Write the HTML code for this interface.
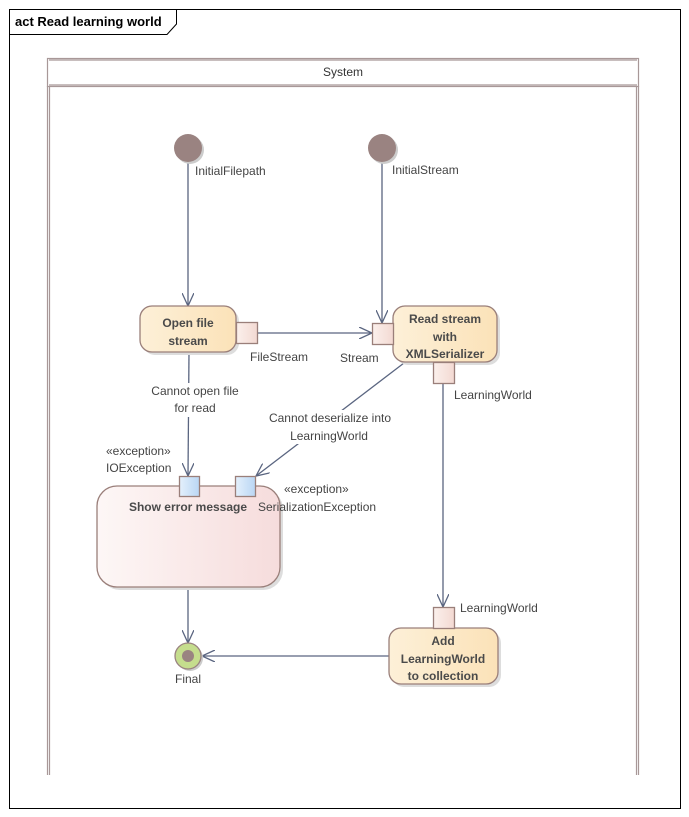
<!DOCTYPE html>
<html><head><meta charset="utf-8"><style>
body{margin:0;background:#fff;}
svg{display:block;font-family:"Liberation Sans",sans-serif;}
</style></head><body>
<svg width="689" height="817" viewBox="0 0 689 817" xmlns="http://www.w3.org/2000/svg">
<defs>
<linearGradient id="act" x1="0" x2="1" y1="0" y2="0"><stop offset="0" stop-color="#fdf0d8"/><stop offset="1" stop-color="#fbe2b8"/></linearGradient>
<linearGradient id="err" x1="0" x2="1" y1="0" y2="0"><stop offset="0" stop-color="#fdf7f6"/><stop offset="1" stop-color="#f6dcdc"/></linearGradient>
<linearGradient id="pin" x1="0" x2="1"><stop offset="0" stop-color="#fbf0ec"/><stop offset="1" stop-color="#f3d9d2"/></linearGradient>
<linearGradient id="bpin" x1="0" x2="1"><stop offset="0" stop-color="#e4f0fc"/><stop offset="1" stop-color="#b9d6f4"/></linearGradient>
<marker id="ar" markerWidth="14" markerHeight="12" refX="13" refY="6" orient="auto" markerUnits="userSpaceOnUse"><path d="M0,0 L13,6 L0,12" fill="none" stroke="#5a6580" stroke-width="1.3"/></marker>
</defs>
<rect x="9.5" y="9.5" width="671" height="799" fill="#fff" stroke="#000"/>
<path d="M9.5,34.5 H167 L176.5,24 V9.5" fill="none" stroke="#000"/>
<text x="15" y="26" font-size="13" font-weight="bold">act Read learning world</text>
<g stroke="#a89898" fill="none" stroke-width="1.2">
<rect x="47.5" y="58.5" width="591" height="28"/>
<line x1="49" y1="60" x2="637" y2="60"/>
<line x1="49" y1="85" x2="637" y2="85"/>
<line x1="47.5" y1="86" x2="47.5" y2="775"/>
<line x1="49.5" y1="86" x2="49.5" y2="775"/>
<line x1="636.5" y1="86" x2="636.5" y2="775"/>
<line x1="638.5" y1="86" x2="638.5" y2="775"/>
</g>
<text x="343" y="76" font-size="12" text-anchor="middle" fill="#333">System</text>
<g stroke="#5a6580" stroke-width="1.3" fill="none">
<line x1="188" y1="162" x2="188" y2="306" marker-end="url(#ar)"/>
<line x1="382" y1="162" x2="382" y2="323" marker-end="url(#ar)"/>
<line x1="258" y1="333" x2="372" y2="333" marker-end="url(#ar)"/>
<line x1="189" y1="352" x2="188" y2="476" marker-end="url(#ar)"/>
<line x1="404" y1="363" x2="256" y2="476" marker-end="url(#ar)"/>
<line x1="443" y1="383" x2="443" y2="607" marker-end="url(#ar)"/>
<line x1="188" y1="587" x2="188" y2="643" marker-end="url(#ar)"/>
<line x1="389" y1="656" x2="202" y2="656" marker-end="url(#ar)"/>
</g>
<g font-size="12" fill="#444" text-anchor="middle">
<rect x="148" y="383" width="94" height="34" fill="#fff"/>
<text x="195" y="395">Cannot open file</text>
<text x="195" y="412">for read</text>
<rect x="265" y="410" width="130" height="34" fill="#fff"/>
<text x="330" y="422">Cannot deserialize into</text>
<text x="329" y="440">LearningWorld</text>
</g>
<circle cx="190" cy="150" r="14" fill="#ccc"/>
<circle cx="188" cy="148" r="14" fill="#9a8381"/>
<circle cx="384" cy="150" r="14" fill="#ccc"/>
<circle cx="382" cy="148" r="14" fill="#9a8381"/>
<g stroke="#9a7f7a" stroke-width="1.3">
<rect x="143" y="309" width="96" height="46" rx="12" fill="#ddd" stroke="none"/>
<rect x="140" y="306" width="96" height="46" rx="12" fill="url(#act)"/>
<rect x="236.5" y="322.5" width="21" height="21" fill="url(#pin)"/>
<rect x="396" y="309" width="104" height="56" rx="12" fill="#ddd" stroke="none"/>
<rect x="393" y="306" width="104" height="56" rx="12" fill="url(#act)"/>
<rect x="372.5" y="323.5" width="21" height="21" fill="url(#pin)"/>
<rect x="433.5" y="362.5" width="21" height="21" fill="url(#pin)"/>
<rect x="100" y="489" width="183" height="101" rx="20" fill="#ddd" stroke="none"/>
<rect x="97" y="486" width="183" height="101" rx="20" fill="url(#err)"/>
<rect x="179.5" y="476.5" width="20" height="20" fill="url(#bpin)"/>
<rect x="235.5" y="476.5" width="20" height="20" fill="url(#bpin)"/>
<rect x="392" y="631" width="109" height="56" rx="12" fill="#ddd" stroke="none"/>
<rect x="389" y="628" width="109" height="56" rx="12" fill="url(#act)"/>
<rect x="433.5" y="607.5" width="21" height="21" fill="url(#pin)"/>
</g>
<g font-size="12" fill="#444">
<text x="195" y="175">InitialFilepath</text>
<text x="392" y="174">InitialStream</text>
<text x="250" y="361">FileStream</text>
<text x="340" y="362">Stream</text>
<text x="454" y="399">LearningWorld</text>
<text x="106" y="455">«exception»</text>
<text x="106" y="472">IOException</text>
<text x="284" y="493">«exception»</text>
<text x="258" y="511">SerializationException</text>
<text x="460" y="612">LearningWorld</text>
<text x="188" y="683" text-anchor="middle">Final</text>
</g>
<g font-size="12" font-weight="bold" fill="#4a4a4a" text-anchor="middle">
<text x="188" y="327">Open file</text>
<text x="188" y="345">stream</text>
<text x="445" y="323">Read stream</text>
<text x="445" y="341">with</text>
<text x="445" y="358">XMLSerializer</text>
<text x="188" y="511">Show error message</text>
<text x="443" y="645">Add</text>
<text x="443" y="663">LearningWorld</text>
<text x="443" y="680">to collection</text>
</g>
<circle cx="190" cy="658" r="13" fill="#ccc"/>
<circle cx="188" cy="656" r="13" fill="#c5dd8d" stroke="#9a8381" stroke-width="1.3"/>
<circle cx="188" cy="656" r="6" fill="#9a8381"/>
</svg>
</body></html>
